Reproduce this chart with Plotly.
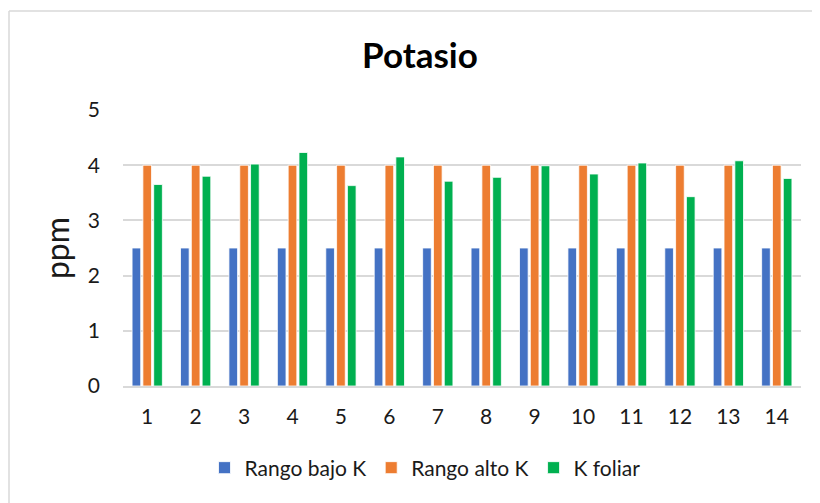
import plotly.graph_objects as go

categories = [str(i) for i in range(1, 15)]
rango_bajo = [2.5] * 14
rango_alto = [4.0] * 14
k_foliar = [3.65, 3.80, 4.02, 4.23, 3.63, 4.15, 3.71, 3.78, 3.99, 3.84, 4.04, 3.43, 4.08, 3.76]

series_names = ["Rango bajo K", "Rango alto K", "K foliar"]
series_colors = ["#4472C4", "#ED7D31", "#00B050"]
series_values = [rango_bajo, rango_alto, k_foliar]

FONT = "Lato"
OFF = 8  # page offset of the figure (body margin)
W, H = 820 - OFF, 503 - OFF
L, R, T = 123 - OFF, 19, 110 - OFF
B = H - (386 - OFF)
pw, ph = W - L - R, H - T - B

fig = go.Figure()
for name, color, vals in zip(series_names, series_colors, series_values):
    fig.add_trace(go.Bar(
        x=categories, y=vals, name=name,
        marker=dict(color=color, line=dict(color="white", width=0.8)),
    ))

def px_x(px):
    return (px - OFF - L) / pw

def px_y(py):
    return (H - B - (py - OFF)) / ph

border = dict(color="#D9D9D9", width=1.5)

fig.update_layout(
    width=W, height=H,
    margin=dict(l=L, r=R, t=T, b=B, autoexpand=False),
    paper_bgcolor="white", plot_bgcolor="white",
    font=dict(family=FONT, color="#1a1a1a"),
    barmode="group", bargap=0.33, bargroupgap=0.2,
    title=dict(text="<b>Potasio</b>", x=(420 - OFF) / W, xanchor="center",
               y=1 - (56 - OFF) / H, yanchor="middle",
               font=dict(family=FONT, size=35, color="#000000")),
    xaxis=dict(
        showgrid=False, showline=True, linecolor="#D9D9D9", linewidth=1.5,
        tickfont=dict(size=21, color="#1a1a1a"), ticks="",
        ticklabelstandoff=11,
    ),
    yaxis=dict(
        range=[0, 5], dtick=1, showgrid=True, gridcolor="#D9D9D9", gridwidth=1.5,
        zeroline=False, showline=False, ticks="",
        tickfont=dict(size=21, color="#1a1a1a"), ticklabelstandoff=22,
        title=dict(text="ppm", font=dict(size=32, color="#1a1a1a"), standoff=8),
    ),
    legend=dict(
        orientation="h", x=px_x(425), xanchor="center", y=px_y(468), yanchor="middle",
        font=dict(size=21, color="#1a1a1a"), itemwidth=30, tracegroupgap=0,
        bgcolor="rgba(0,0,0,0)",
    ),
    shapes=[
        dict(type="line", xref="paper", yref="paper",
             x0=px_x(9), x1=px_x(9), y0=px_y(11), y1=px_y(510), line=border),
        dict(type="line", xref="paper", yref="paper",
             x0=px_x(9), x1=px_x(830), y0=px_y(11), y1=px_y(11), line=border),
    ],
)

fig.write_html("out.html")
